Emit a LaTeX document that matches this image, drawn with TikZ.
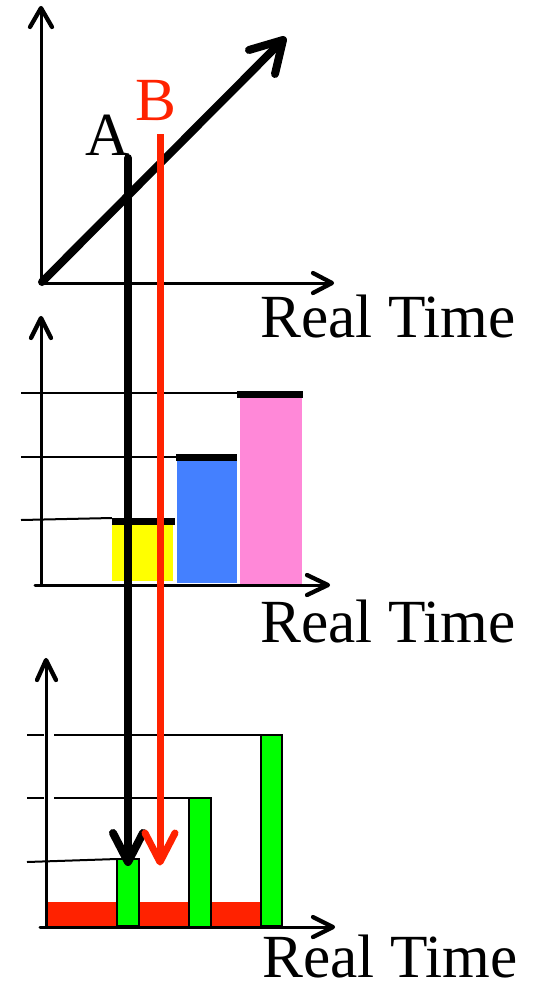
\documentclass[tikz,border=0pt]{standalone}
\usepackage{fontspec}
\setmainfont{Liberation Serif}
\definecolor{redB}{HTML}{FF2200}
\definecolor{barY}{HTML}{FFFF00}
\definecolor{barBl}{HTML}{4480FF}
\definecolor{barP}{HTML}{FF88D8}
\definecolor{barG}{HTML}{00FF00}
\tikzset{
  axisline/.style={line width=2.25pt, line cap=round},
  axishead/.style={line width=3.2pt, line cap=round, line join=round},
  gridline/.style={line width=1.5pt},
  capline/.style={line width=5.25pt},
  bigtext/.style={anchor=base west, inner sep=0pt, font=\fontsize{46}{50}\selectfont},
  thickarrow/.style={line width=6pt, line cap=round, line join=round},
  gbar/.style={fill=barG, draw=black, line width=1.6pt}
}
\begin{document}
\begin{tikzpicture}[x=0.75pt,y=-0.75pt]
\useasboundingbox (0,0) rectangle (534,982);
% ---------- Panel 1 ----------
\coordinate (o1) at (41,283);
\coordinate (y1) at (41,8);
\coordinate (x1) at (332,283);
\draw[axisline] (o1) -- (y1);
\draw[axishead] (30,27) -- (y1) -- (52,27);
\draw[axisline] (o1) -- (x1);
\draw[axishead] (313,273) -- (x1) -- (313,293);
\coordinate (d0) at (42,282);
\coordinate (d1) at (283,40);
\draw[thickarrow] (d0) -- (279,44);
\draw[thickarrow] (249,50) -- (d1) -- (275,74);
\node[bigtext] (rt1) at (260,337) {Real Time};
\node[bigtext] (lA) at (85,155) {A};
\node[bigtext, text=redB] (lB) at (135,120) {B};
% ---------- Panel 2 ----------
\coordinate (o2) at (41,585);
\coordinate (y2) at (41,318);
\coordinate (x2) at (328,585);
\draw[gridline] (21,393) -- (237,393);
\draw[gridline] (21,457) -- (176,457);
\draw[gridline] (21,520) -- (112,518);
\fill[barY] (112,525) rectangle (173,581);
\fill[barBl] (177,460) rectangle (237,583);
\fill[barP] (240,397) rectangle (302,585);
\draw[capline] (112,521) -- (175,521);
\draw[capline] (176,457) -- (237,457);
\draw[capline] (237,394) -- (303,394);
\draw[axisline] (o2) -- (y2);
\draw[axishead] (31,338) -- (y2) -- (51,338);
\draw[axisline] (35,585) -- (x2);
\draw[axishead] (307,575) -- (x2) -- (307,595);
\node[bigtext] (rt2) at (260,642) {Real Time};
% ---------- Panel 3 ----------
\coordinate (o3) at (46,927);
\coordinate (y3) at (46,660);
\coordinate (x3) at (333,927);
\draw[gridline] (27,735) -- (44,735);
\draw[gridline] (54,735) -- (282,735);
\draw[gridline] (27,798) -- (44,798);
\draw[gridline] (54,798) -- (211,798);
\draw[gridline] (27,862) -- (117,859);
\fill[redB] (48,902) rectangle (260,926);
\draw[gbar] (117,859) rectangle (139,926);
\draw[gbar] (189,798) rectangle (211,927);
\draw[gbar] (261,735) rectangle (282,926);
\draw[axisline] (o3) -- (y3);
\draw[axishead] (37,680) -- (y3) -- (56,680);
\draw[axisline] (40,927) -- (x3);
\draw[axishead] (313,917) -- (x3) -- (313,937);
\node[bigtext] (rt3) at (262,977) {Real Time};
% ---------- A and B arrows ----------
\coordinate (a0) at (128,158);
\coordinate (a1) at (128,862);
\coordinate (b0) at (160,134);
\coordinate (b1) at (160,862);
\draw[thickarrow] (a0) -- (128,856);
\draw[thickarrow] (113,833) -- (a1) -- (143,833);
\draw[thickarrow, draw=redB, line width=5.25pt, line cap=butt] (b0) -- (160,856);
\draw[thickarrow, draw=redB, line width=5.25pt] (145,833) -- (b1) -- (175,833);
\end{tikzpicture}
\end{document}
